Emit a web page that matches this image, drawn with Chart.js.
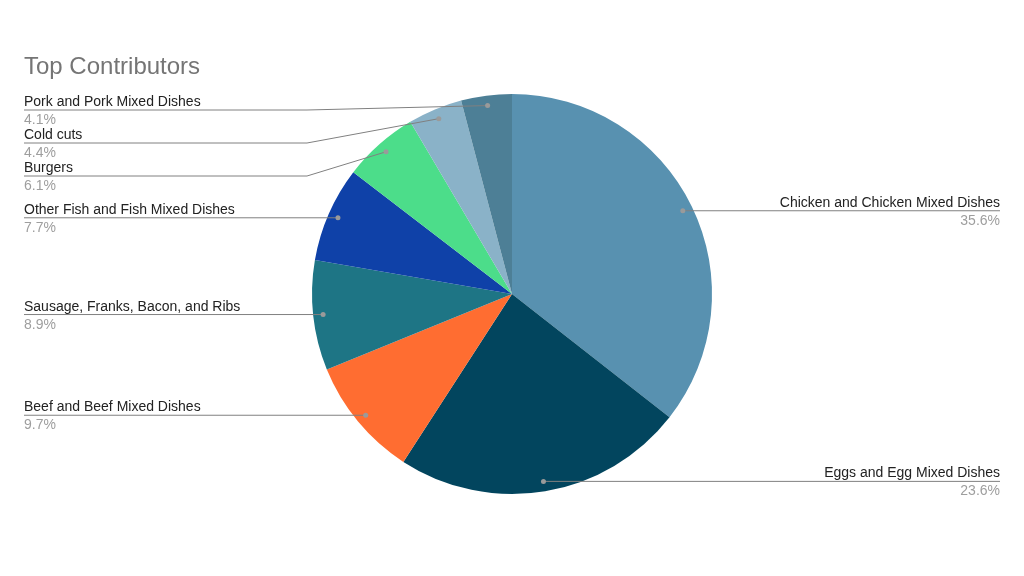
<!DOCTYPE html>
<html>
<head>
<meta charset="utf-8">
<title>Top Contributors</title>
<script src="https://cdn.jsdelivr.net/npm/chart.js@4"></script>
<style>
  html, body { margin: 0; padding: 0; background: #fff; }
  #wrap { width: 1024px; height: 576px; }
</style>
</head>
<body>
<div id="wrap"><canvas id="pie" width="1024" height="576"></canvas></div>
<script>
// data
const categories = [
    'Chicken and Chicken Mixed Dishes',
    'Eggs and Egg Mixed Dishes',
    'Beef and Beef Mixed Dishes',
    'Sausage, Franks, Bacon, and Ribs',
    'Other Fish and Fish Mixed Dishes',
    'Burgers',
    'Cold cuts',
    'Pork and Pork Mixed Dishes'
];
const shares = [35.6, 23.6, 9.7, 8.9, 7.7, 6.1, 4.4, 4.1];
const sliceColors = ['#5891b0', '#02455e', '#ff6d31', '#1e7585', '#0f41a8', '#4cdd8a', '#8ab2c8', '#4d7f96'];
const chartTitle = 'Top Contributors';

const FONT = '"Liberation Sans", Arial, sans-serif';

// draws the title and the leader-line labels like the google sheets pie
const calloutPlugin = {
    id: 'callouts',
    afterDraw: function(chart) {
        const ctx = chart.ctx;
        const meta = chart.getDatasetMeta(0);
        const W = chart.width;

        ctx.save();
        ctx.font = '24px ' + FONT;
        ctx.fillStyle = '#757575';
        ctx.textAlign = 'left';
        ctx.textBaseline = 'alphabetic';
        ctx.fillText(chartTitle, 24, 74);

        let left = [], right = [];
        meta.data.forEach(function(arc, i) {
            const mid = (arc.startAngle + arc.endAngle) / 2;
            const r = arc.outerRadius * 0.95;
            const ax = arc.x + Math.cos(mid) * r;
            const ay = arc.y + Math.sin(mid) * r;
            const item = { i: i, ax: ax, ay: ay };
            if (Math.cos(mid) >= 0) right.push(item); else left.push(item);
        });

        function spread(list) {
            list.sort(function(a, b) { return a.ay - b.ay; });
            let prev = -Infinity;
            list.forEach(function(it) {
                it.ly = Math.max(it.ay, prev + 33, 110);
                prev = it.ly;
            });
        }
        spread(left);
        spread(right);

        function drawOne(it, isRight) {
            const textX = isRight ? W - 24 : 24;
            const elbowX = isRight ? W - 307 : 307;
            ctx.strokeStyle = '#808080';
            ctx.lineWidth = 1;
            ctx.beginPath();
            ctx.moveTo(textX, it.ly);
            if (Math.abs(it.ly - it.ay) > 0.5) ctx.lineTo(elbowX, it.ly);
            ctx.lineTo(it.ax, it.ay);
            ctx.stroke();

            ctx.fillStyle = '#9a9a9a';
            ctx.beginPath();
            ctx.arc(it.ax, it.ay, 2.5, 0, Math.PI * 2);
            ctx.fill();

            ctx.textAlign = isRight ? 'right' : 'left';
            ctx.font = '14px ' + FONT;
            ctx.fillStyle = '#222222';
            ctx.fillText(categories[it.i], textX, it.ly - 4);
            ctx.fillStyle = '#9e9e9e';
            ctx.fillText(shares[it.i].toFixed(1) + '%', textX, it.ly + 14);
        }
        left.forEach(function(it) { drawOne(it, false); });
        right.forEach(function(it) { drawOne(it, true); });
        ctx.restore();
    }
};

let pieCtx = document.getElementById('pie').getContext('2d');

let topChart = new Chart(pieCtx, {
    type: 'pie',
    data: {
        labels: categories,
        datasets: [{
            data: shares,
            backgroundColor: sliceColors,
            borderWidth: 0
        }]
    },
    options: {
        responsive: false,
        animation: false,
        layout: {
            padding: { top: 94, bottom: 82, left: 100, right: 100 }
        },
        plugins: {
            legend: { display: false },
            tooltip: { enabled: false },
            title: { display: false }
        }
    },
    plugins: [calloutPlugin]
});
</script>
</body>
</html>
